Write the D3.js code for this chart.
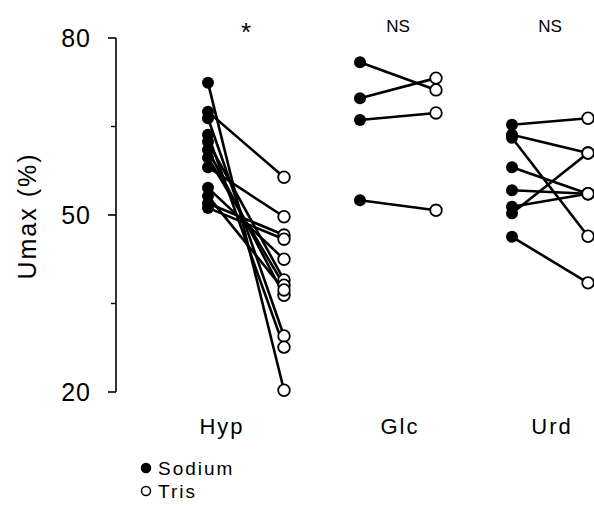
<!DOCTYPE html>
<html>
<head>
<meta charset="utf-8">
<script src="https://cdn.jsdelivr.net/npm/d3@7"></script>
<style>
  body { margin: 0; background: #fff; }
  svg { display: block; font-family: "Liberation Sans", Arial, sans-serif; }
</style>
</head>
<body>
<svg id="chart" width="594" height="508"></svg>
<script>
// groups and significance marks
const groups = ['Hyp', 'Glc', 'Urd'];
const signif = ['*', 'NS', 'NS'];
const yTicks = [20, 50, 80];
const yMinor = [35, 65];

// paired values: sodium -> tris, per group
const hypSodium = [72.4, 67.5, 66.4, 63.6, 62.4, 61.0, 59.7, 58.1, 54.6, 53.2, 52.0, 51.2];
const hypTris   = [20.3, 56.4, 29.5, 27.6, 39.0, 36.4, 38.1, 49.7, 42.5, 37.3, 46.6, 45.9];
const glcSodium = [75.9, 69.8, 66.1, 52.5];
const glcTris   = [71.2, 73.2, 67.3, 50.8];
const urdSodium = [65.3, 63.6, 63.1, 58.1, 54.2, 51.4, 50.3, 46.3];
const urdTris   = [66.4, 60.5, 46.4, 53.6, 53.6, 53.6, 60.5, 38.5];

const pairs = {
  Hyp: hypSodium.map((s, i) => [s, hypTris[i]]),
  Glc: glcSodium.map((s, i) => [s, glcTris[i]]),
  Urd: urdSodium.map((s, i) => [s, urdTris[i]])
};

const svg = d3.select('#chart');
const y = d3.scaleLinear().domain([20, 80]).range([392, 38]);
const x = d3.scalePoint().domain(groups).range([246, 550]);
const half = 38;
const labelDx = { Hyp: -24, Glc: 2, Urd: 2 };

// y axis
const axisX = 116;
svg.append('line').attr('x1', axisX).attr('x2', axisX)
  .attr('y1', y(80)).attr('y2', y(20))
  .attr('stroke', '#000').attr('stroke-width', 1.6);
svg.selectAll('.tick').data(yTicks).join('line')
  .attr('x1', axisX - 8).attr('x2', axisX)
  .attr('y1', d => y(d)).attr('y2', d => y(d))
  .attr('stroke', '#000').attr('stroke-width', 1.6);
svg.selectAll('.minor').data(yMinor).join('line')
  .attr('x1', axisX - 5).attr('x2', axisX)
  .attr('y1', d => y(d)).attr('y2', d => y(d))
  .attr('stroke', '#000').attr('stroke-width', 1.4);
svg.selectAll('.tlab').data(yTicks).join('text')
  .attr('x', 91).attr('y', d => y(d) + 9)
  .attr('text-anchor', 'end').attr('font-size', 25)
  .attr('letter-spacing', 1)
  .text(d => d);

svg.append('text')
  .attr('transform', 'translate(36,216) rotate(-90)')
  .attr('text-anchor', 'middle').attr('font-size', 25)
  .attr('letter-spacing', 2)
  .text('Umax (%)');

// pairs
groups.forEach(g => {
  const gx = x(g);
  const grp = svg.append('g');
  grp.selectAll('line').data(pairs[g]).join('line')
    .attr('x1', gx - half).attr('x2', gx + half)
    .attr('y1', d => y(d[0])).attr('y2', d => y(d[1]))
    .attr('stroke', '#000').attr('stroke-width', 2.6);
  grp.selectAll('.na').data(pairs[g]).join('circle')
    .attr('cx', gx - half).attr('cy', d => y(d[0])).attr('r', 6)
    .attr('fill', '#000');
  grp.selectAll('.tr').data(pairs[g]).join('circle')
    .attr('cx', gx + half).attr('cy', d => y(d[1])).attr('r', 5.8)
    .attr('fill', '#fff').attr('stroke', '#000').attr('stroke-width', 1.8);
});

// category labels
svg.selectAll('.cat').data(groups).join('text')
  .attr('x', d => x(d) + labelDx[d]).attr('y', 434)
  .attr('text-anchor', 'middle').attr('font-size', 22)
  .attr('letter-spacing', 2)
  .text(d => d);

// significance
svg.selectAll('.sig').data(groups).join('text')
  .attr('x', d => x(d)).attr('y', (d, i) => i === 0 ? 41 : 32)
  .attr('text-anchor', 'middle').attr('font-size', (d, i) => i === 0 ? 26 : 17)
  .text((d, i) => signif[i]);

// legend
const legend = [['Sodium', '#000'], ['Tris', '#fff']];
const lg = svg.selectAll('.lg').data(legend).join('g')
  .attr('transform', (d, i) => `translate(146,${468 + i * 23})`);
lg.append('circle').attr('r', 4.5)
  .attr('fill', d => d[1]).attr('stroke', '#000').attr('stroke-width', 1.5);
lg.append('text').attr('x', 12).attr('y', 7)
  .attr('font-size', 19).attr('letter-spacing', 2)
  .text(d => d[0]);
</script>
</body>
</html>
